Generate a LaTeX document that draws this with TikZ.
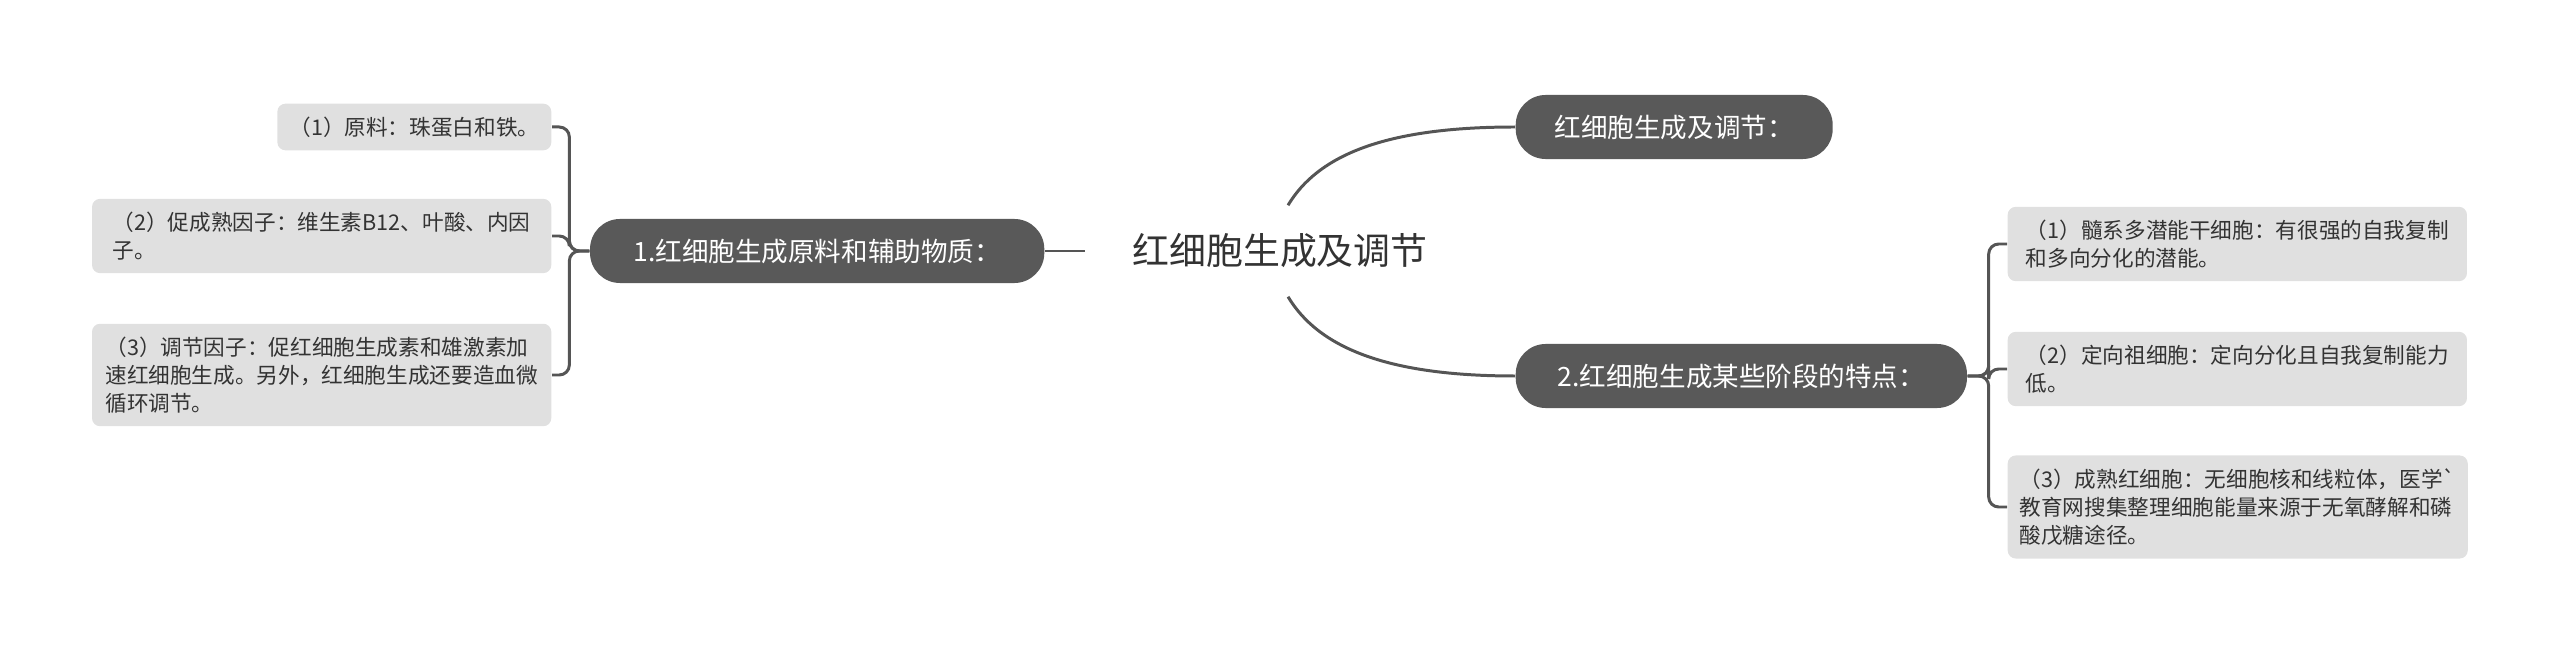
\documentclass[tikz,border=0pt]{standalone}
\usepackage{fontspec}
\setmainfont{Noto Sans CJK SC}

\definecolor{topicgray}{HTML}{595959}
\definecolor{leafgray}{HTML}{E0E0E0}
\definecolor{linegray}{HTML}{555555}
\definecolor{textgray}{HTML}{333333}

\tikzset{
	maintopic/.style = {minimum width = 3.88cm, minimum height = 0.9cm, text = textgray, font = \fontsize{10.5}{12}\selectfont},
	topic/.style = {fill = topicgray, text = white, rounded corners = 0.3cm, inner xsep = 0.39cm, minimum height = 0.64cm, font = \fontsize{7.55}{9}\selectfont},
	leaf/.style = {fill = leafgray, text = textgray, rounded corners = 0.08cm, inner xsep = 0.12cm, inner ysep = 0.13cm, align = left, font = \fontsize{6.15}{7.97}\selectfont},
	wideleaf/.style = {leaf, minimum width = 4.59cm},
	link/.style = {draw = linegray, line width = 0.85pt, rounded corners = 0.1cm}
}

\begin{document}
\begin{tikzpicture}[x = 0.01cm, y = 0.01cm]

	\begin{scope}[yscale = -1]

		\useasboundingbox (0, 0) rectangle (2560, 655);

		\node [maintopic] (root) at (1280, 251) {红细胞生成及调节};

		\node [topic, anchor = east, minimum width = 4.54cm] (b1) at (1045, 251) {1.红细胞生成原料和辅助物质：};
		\node [topic, anchor = west] (b0) at (1515, 127) {红细胞生成及调节：};
		\node [topic, anchor = west, minimum width = 4.51cm] (b2) at (1515, 376) {2.红细胞生成某些阶段的特点：};

		\node [leaf, anchor = east] (l1) at (552, 127) {（1）原料：珠蛋白和铁。};
		\node [wideleaf, anchor = east] (l2) at (552, 236) {（2）促成熟因子：维生素B12、叶酸、内因\\子。};
		\node [wideleaf, anchor = east] (l3) at (552, 375) {（3）调节因子：促红细胞生成素和雄激素加\\速红细胞生成。另外，红细胞生成还要造血微\\循环调节。};

		\node [wideleaf, anchor = west] (r1) at (2007, 244) {（1）髓系多潜能干细胞：有很强的自我复制\\和多向分化的潜能。};
		\node [wideleaf, anchor = west] (r2) at (2007, 369) {（2）定向祖细胞：定向分化且自我复制能力\\低。};
		\node [wideleaf, anchor = west] (r3) at (2007, 507) {（3）成熟红细胞：无细胞核和线粒体，医学\textasciigrave\\教育网搜集整理细胞能量来源于无氧酵解和磷\\酸戊糖途径。};

		\draw [link] (b1.east) -- (root.west);
		\draw [link] ([xshift = 0.08cm] root.north) .. controls +(30, -50) and +(-130, 0) .. (b0.west);
		\draw [link] ([xshift = 0.08cm] root.south) .. controls +(30, 50) and +(-130, 0) .. (b2.west);

		\foreach \n in {l1, l2, l3}
			\draw [link] (b1.west) -- ++(-20, 0) |- (\n.east);
		\foreach \n in {r1, r2, r3}
			\draw [link] (b2.east) -- ++(21, 0) |- (\n.west);

	\end{scope}

\end{tikzpicture}
\end{document}
